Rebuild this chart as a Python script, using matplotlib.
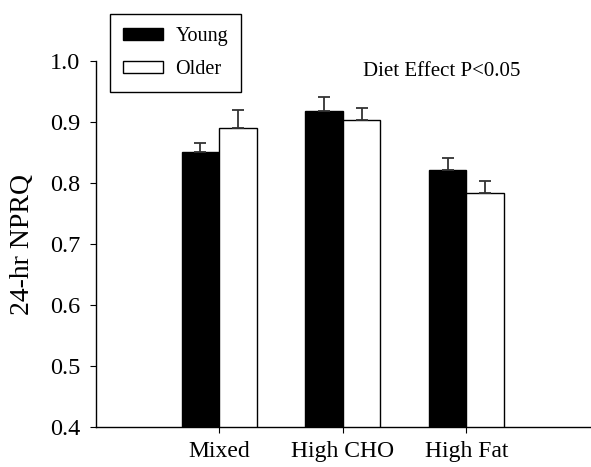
import numpy as np
import matplotlib
matplotlib.use('Agg')
import matplotlib.pyplot as plt

# data
categories = ['Mixed', 'High CHO', 'High Fat']
young = [0.851, 0.919, 0.821]
young_err = [0.014, 0.023, 0.020]
older = [0.890, 0.903, 0.783]
older_err = [0.030, 0.020, 0.020]
y_ticks = [0.4, 0.5, 0.6, 0.7, 0.8, 0.9, 1.0]

plt.rcParams['font.family'] = ['Liberation Serif', 'DejaVu Serif']

fig = plt.figure(figsize=(5.91, 4.67), dpi=100)
ax = fig.add_axes([0.162, 0.0857, 0.836, 0.7833])

x = np.arange(1, len(categories) + 1)
w = 0.304
err_kw = dict(ecolor='#333333', elinewidth=1.3, capsize=4.5, capthick=1.3)

ax.bar(x - w / 2, young, w, bottom=0, color='black', edgecolor='black',
       linewidth=1, label='Young',
       yerr=[np.zeros(3), young_err], error_kw=err_kw, zorder=2)
ax.bar(x + w / 2, older, w, bottom=0, color='white', edgecolor='black',
       linewidth=1, label='Older',
       yerr=[np.zeros(3), older_err], error_kw=err_kw, zorder=2)

ax.set_xlim(0, 4)
ax.set_ylim(0.4, 1.0)
ax.set_xticks(x)
ax.set_xticklabels(categories, fontsize=17)
ax.set_yticks(y_ticks)
ax.set_yticklabels(['%.1f' % t for t in y_ticks], fontsize=17.5)
ax.tick_params(axis='y', direction='out', length=4, width=0.8, pad=7)
ax.tick_params(axis='x', direction='out', length=4, width=0.8, pad=6)

for s in ['top', 'right']:
    ax.spines[s].set_visible(False)
ax.spines['left'].set_linewidth(1)
ax.spines['bottom'].set_linewidth(1)

ax.set_ylabel('24-hr NPRQ', fontsize=20)
ax.yaxis.set_label_coords(-0.122, 0.5)

ax.text(2.164, 0.983, 'Diet Effect P<0.05', fontsize=15, ha='left', va='center')

leg = ax.legend(loc='upper left', bbox_to_anchor=(0.186, 0.970),
                bbox_transform=fig.transFigure, borderaxespad=0,
                fontsize=14.5, handlelength=2.0, handleheight=0.55,
                handletextpad=0.6, labelspacing=0.7, borderpad=0.65,
                fancybox=False, framealpha=1)
leg.get_frame().set_edgecolor('black')
leg.get_frame().set_linewidth(1)

fig.savefig('out.png', dpi=100)
